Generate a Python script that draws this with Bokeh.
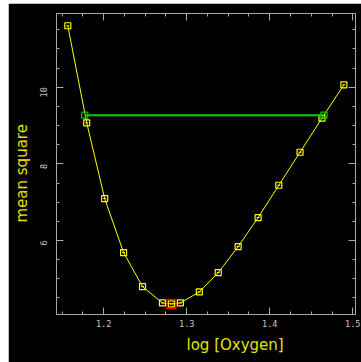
import math
from bokeh.plotting import figure
from bokeh.models import FixedTicker, LinearAxis, Title, Range1d
from bokeh.embed import file_html
from bokeh.resources import INLINE

# data
log_oxygen = [1.1568, 1.1796, 1.2012, 1.2240, 1.2468, 1.2708, 1.2816, 1.2924,
              1.3152, 1.3380, 1.3620, 1.3860, 1.4109, 1.4365, 1.4629, 1.4893]
mean_square = [11.603, 9.070, 7.094, 5.684, 4.797, 4.371, 4.345, 4.371,
               4.658, 5.162, 5.841, 6.598, 7.441, 8.303, 9.191, 10.063]
best_x = [1.2816]
best_y = [4.345]
level_x = [1.1772, 1.4653]
level_y = [9.269, 9.269]

x_major = [1.2, 1.3, 1.4, 1.5]
x_minor = [1.15, 1.175, 1.2, 1.225, 1.25, 1.275, 1.3, 1.325, 1.35, 1.375,
           1.4, 1.425, 1.45, 1.475, 1.5]
y_major = [6, 8, 10]
y_minor = [4.5, 5, 5.5, 6, 6.5, 7, 7.5, 8, 8.5, 9, 9.5, 10, 10.5, 11, 11.5]

x_label = "log [Oxygen]"
y_label = "mean square"

GRAY = "#a8a8a8"
YEL = "#ffff00"
LBL = "#e4e400"

p = figure(width=353, height=359, output_backend="svg", toolbar_location=None,
           x_range=Range1d(1.1432, 1.5033), y_range=Range1d(4.069, 11.923),
           background_fill_color="black", border_fill_color="black",
           min_border_left=47, min_border_right=6, min_border_top=10,
           min_border_bottom=48, outline_line_color=GRAY,
           margin=(3, 0, 0, 8))
p.grid.visible = False

xt = FixedTicker(ticks=x_major, minor_ticks=x_minor)
yt = FixedTicker(ticks=y_major, minor_ticks=y_minor)

def style(ax, labels=True, ticks=None):
    ax.major_tick_in = 7
    ax.major_tick_out = 0
    ax.minor_tick_in = 3
    ax.minor_tick_out = 0
    ax.major_tick_line_color = GRAY
    ax.minor_tick_line_color = GRAY
    ax.axis_line_color = GRAY
    ax.major_label_text_color = "#c8c8c8"
    ax.major_label_text_font = "DejaVu Sans Mono"
    ax.major_label_text_font_size = "8.5px"
    if not labels:
        ax.major_label_overrides = {t: "" for t in ticks}
        ax.major_label_standoff = 0

p.xaxis.ticker = xt
p.yaxis.ticker = yt
style(p.xaxis[0])
style(p.yaxis[0])
p.xaxis.major_label_standoff = 5
p.yaxis.major_label_standoff = 13
p.yaxis.major_label_orientation = math.pi / 2

top = LinearAxis(ticker=xt)
style(top, labels=False, ticks=x_major)
p.add_layout(top, "above")
right = LinearAxis(ticker=yt)
style(right, labels=False, ticks=y_major)
p.add_layout(right, "right")

p.line(log_oxygen, mean_square, line_color=YEL, line_width=1)
p.scatter(log_oxygen, mean_square, marker="square", size=6, line_color=YEL,
          fill_color=None, line_width=1.2)
p.scatter(log_oxygen, mean_square, marker="dash", size=3, line_color=YEL, line_width=1)

p.line(level_x, level_y, line_color="#00cc00", line_width=2)
p.scatter(level_x, level_y, marker="square", size=6, line_color="#00cc00",
          fill_color=None, line_width=1.2)

p.scatter(best_x, best_y, marker="square", size=9, line_color="#ee0000",
          fill_color=None, line_width=1.5)

p.add_layout(Title(text=x_label, align="left", offset=130, text_color=LBL,
                   text_font="DejaVu Sans", text_font_size="15px",
                   text_font_style="normal", standoff=8), "below")
p.add_layout(Title(text=y_label, align="left", offset=92, text_color=LBL,
                   text_font="DejaVu Sans", text_font_size="15px",
                   text_font_style="normal", standoff=5), "left")

open("out.html", "w").write(file_html(p, INLINE))
